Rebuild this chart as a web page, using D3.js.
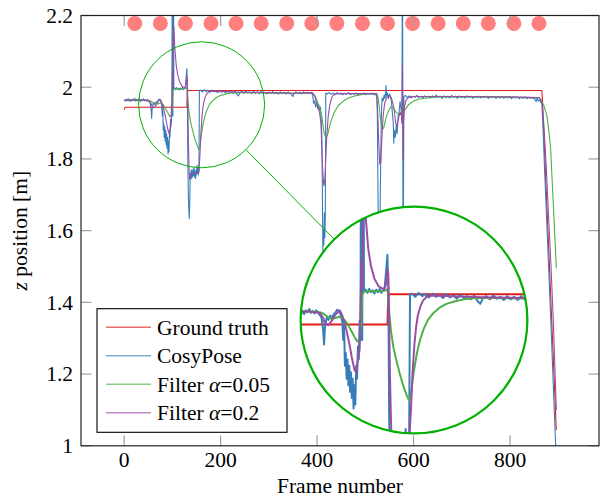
<!DOCTYPE html>
<html>
<head>
<meta charset="utf-8">
<script src="https://cdn.jsdelivr.net/npm/d3@7"></script>
<style>
  html, body { margin: 0; padding: 0; background: #fff; }
</style>
</head>
<body>
<div id="chart"></div>
<script>
// ---- data ----
const xTicks = [0, 200, 400, 600, 800];
const yTicks = [1, 1.2, 1.4, 1.6, 1.8, 2, 2.2];

const markerFrames = [22, 75, 127, 180, 232, 284, 337, 389, 441, 494, 546, 598, 651, 703, 755, 808, 860];
const markerZ = 2.178;

const groundTruth = [[0,1.937],[2,1.944],[130,1.944],[131,1.991],[866,1.991],[867,1.97],[896,1.044]];

const cosyPose = [
  [0,1.962],[2,1.966],[4,1.961],[6,1.967],[8,1.963],[10,1.968],[12,1.960],[14,1.965],[16,1.962],[18,1.967],
  [20,1.963],[22,1.969],[24,1.961],[26,1.966],[28,1.962],[30,1.967],[32,1.964],[34,1.960],[36,1.966],[38,1.963],
  [40,1.968],[42,1.962],[44,1.965],[46,1.961],[48,1.966],[50,1.963],[52,1.959],[54,1.955],[56,1.935],[57,1.913],
  [58,1.94],[60,1.955],[62,1.951],[64,1.958],[66,1.953],[68,1.96],[70,1.962],[72,1.967],[74,1.965],[76,1.96],
  [78,1.948],[79,1.92],[80,1.95],[81,1.88],[82,1.90],[83,1.86],[84,1.89],[85,1.85],[86,1.88],[87,1.84],
  [88,1.87],[89,1.83],[90,1.86],[91,1.814],[92,1.85],[93,1.82],[94,1.88],[95,1.86],[96,1.91],[97,1.89],
  [98,1.95],[99,1.92],[100,2.6],[101,1.92],[102,2.5],[103,1.995],[105,1.998],[107,1.993],[109,1.999],[111,1.994],
  [113,1.997],[115,1.992],[117,1.998],[119,1.994],[121,1.999],[123,1.993],[125,1.997],[127,2.003],[128,2.02],[129,2.036],
  [130,2.052],[131,2.0],[132,1.80],[133,1.70],[134,1.66],[135,1.634],[136,1.68],[137,1.76],[138,1.748],[139,1.77],
  [140,1.745],[141,1.766],[142,1.75],[143,1.772],[144,1.754],[145,1.776],[146,1.75],[147,1.765],[148,1.745],[149,1.77],
  [150,1.755],[151,1.782],[152,1.76],[153,1.775],[154,1.755],[155,1.77],[156,1.99],
  [158,1.992],[162,1.987],[166,1.993],[170,1.988],[174,1.991],[178,1.986],[182,1.992],[186,1.987],[190,1.990],[194,1.985],
  [198,1.991],[202,1.986],[206,1.989],[210,1.984],[214,1.990],[218,1.985],[222,1.988],[226,1.983],[230,1.989],[234,1.980],
  [237,1.976],[240,1.985],[244,1.988],[248,1.983],[252,1.989],[256,1.984],[260,1.987],[264,1.982],[268,1.988],[272,1.983],
  [276,1.987],[280,1.982],[284,1.988],[288,1.983],[292,1.986],[296,1.981],[300,1.987],[304,1.983],[308,1.988],[312,1.982],
  [316,1.986],[320,1.981],[324,1.987],[328,1.983],[332,1.986],[336,1.981],[340,1.987],[344,1.982],[348,1.978],[350,1.974],
  [352,1.982],[356,1.987],[360,1.982],[364,1.986],[368,1.981],[372,1.987],[376,1.983],[380,1.986],[384,1.982],[388,1.986],
  [391,1.975],[393,1.955],[395,1.962],[397,1.945],[399,1.958],[401,1.94],[403,1.952],[405,1.935],[407,1.945],[409,1.90],
  [410,1.85],[411,1.70],[412,1.54],[413,1.60],[414,1.56],[415,1.65],[416,1.58],[417,1.64],[418,1.984],
  [421,1.981],[425,1.985],[429,1.980],[433,1.984],[437,1.979],[441,1.985],[445,1.981],[449,1.984],[453,1.979],[457,1.983],
  [461,1.980],[465,1.985],[469,1.979],[473,1.983],[477,1.980],[481,1.984],[485,1.978],[489,1.983],[493,1.980],[497,1.984],
  [501,1.979],[505,1.983],[509,1.980],[513,1.984],[517,1.979],[521,1.982],
  [524,1.97],[525,1.92],[526,1.75],[527,1.60],[528,1.52],[529,1.58],[530,1.55],[531,1.70],[532,1.80],[533,1.90],
  [534,1.95],[535,1.97],[537,1.962],[539,1.978],[541,1.968],[543,2.005],[544,1.975],[546,1.984],[548,1.968],[550,1.981],
  [552,1.974],[554,1.962],[556,1.93],[558,1.90],[559,1.844],[560,1.88],[562,1.86],[564,1.89],[566,1.87],[568,1.92],
  [570,1.93],[572,1.96],[574,1.94],[576,1.90],[577,2.6],[578,1.62],[579,1.66],[580,1.974],
  [583,1.977],[587,1.971],[591,1.976],[595,1.970],[599,1.975],[603,1.972],[607,1.977],[611,1.971],[615,1.975],[619,1.969],
  [623,1.976],[627,1.972],[631,1.975],[635,1.970],[639,1.976],[643,1.971],[647,1.978],[651,1.972],[655,1.975],[659,1.969],
  [663,1.976],[667,1.971],[671,1.975],[675,1.970],[679,1.977],[683,1.972],[687,1.975],[691,1.969],[695,1.976],[699,1.971],
  [703,1.974],[707,1.970],[711,1.976],[715,1.972],[719,1.975],[723,1.969],[727,1.974],[731,1.971],[735,1.975],[739,1.970],
  [743,1.974],[747,1.971],[751,1.975],[755,1.969],[759,1.974],[763,1.971],[767,1.974],[771,1.969],[775,1.973],[779,1.970],
  [783,1.974],[787,1.969],[791,1.973],[795,1.970],[799,1.974],[803,1.968],[807,1.973],[811,1.970],[815,1.973],[819,1.968],
  [823,1.972],[827,1.969],[831,1.973],[835,1.968],[839,1.972],[843,1.969],[847,1.971],[851,1.967],[854,1.960],[856,1.969],
  [859,1.961],[862,1.965],[864,1.958],[866,1.955],[868,1.90],[872,1.76],[876,1.63],[880,1.50],[884,1.37],[888,1.23],
  [892,1.09],[895,0.99]
];

const filter005 = [
  [0,1.963],[20,1.964],[40,1.964],[52,1.963],[56,1.961],[60,1.957],[65,1.953],[70,1.954],[75,1.956],[80,1.952],
  [84,1.945],[88,1.935],[92,1.925],[95,1.918],[98,1.921],[100,1.95],[101,1.99],[103,1.995],[110,1.996],[120,1.995],
  [128,1.997],[130,1.999],[132,1.965],[134,1.935],[137,1.908],[140,1.89],[144,1.869],[148,1.85],[152,1.835],[155,1.826],
  [157,1.835],[160,1.868],[164,1.90],[168,1.922],[172,1.938],[177,1.952],[183,1.962],[190,1.97],[198,1.976],[208,1.98],
  [218,1.983],[232,1.985],[250,1.985],[300,1.984],[350,1.983],[390,1.984],[395,1.978],[399,1.966],[405,1.944],[410,1.918],
  [414,1.875],[418,1.859],[422,1.868],[428,1.902],[435,1.928],[444,1.949],[455,1.962],[465,1.970],[476,1.975],[486,1.978],
  [500,1.981],[513,1.982],[524,1.982],[526,1.974],[529,1.942],[532,1.907],[535,1.882],[538,1.886],[543,1.916],[548,1.934],
  [553,1.945],[557,1.944],[560,1.938],[564,1.930],[568,1.926],[572,1.927],[576,1.929],[577,1.962],[578,1.932],[582,1.936],
  [590,1.952],[600,1.961],[612,1.967],[628,1.970],[650,1.973],[700,1.973],[800,1.972],[860,1.97],[864,1.965],[870,1.95],
  [877,1.918],[884,1.834],[889,1.695],[894,1.555],[896,1.495]
];

const filter02 = [
  [0,1.963],[20,1.964],[40,1.964],[52,1.962],[56,1.954],[58,1.946],[62,1.943],[66,1.950],[70,1.959],[75,1.966],
  [78,1.958],[82,1.940],[86,1.915],[89,1.893],[92,1.874],[94,1.870],[96,1.89],[98,1.905],[100,2.04],[101,2.0],
  [102,2.12],[103,2.17],[105,2.11],[108,2.06],[111,2.035],[115,2.015],[120,2.003],[126,1.998],[128,2.004],[130,2.03],
  [131,2.022],[132,1.95],[133,1.86],[134,1.80],[135,1.75],[136,1.742],[138,1.752],[142,1.760],[146,1.762],[150,1.760],
  [155,1.763],[157,1.81],[159,1.87],[161,1.912],[163,1.94],[165,1.958],[168,1.972],[171,1.981],[175,1.987],[180,1.989],
  [200,1.988],[250,1.986],[300,1.985],[350,1.983],[390,1.985],[395,1.975],[400,1.952],[405,1.93],[408,1.90],[410,1.82],
  [412,1.76],[414,1.725],[416,1.74],[418,1.80],[420,1.86],[423,1.918],[426,1.948],[429,1.965],[432,1.975],[436,1.980],
  [442,1.982],[522,1.982],[524,1.975],[526,1.92],[528,1.84],[530,1.785],[532,1.79],[534,1.85],[537,1.92],[540,1.955],
  [544,1.97],[549,1.977],[554,1.971],[557,1.955],[560,1.935],[563,1.90],[565,1.89],[568,1.908],[572,1.93],[575,1.92],
  [576,1.90],[577,2.06],[578,1.80],[579,1.90],[581,1.945],[584,1.962],[588,1.970],[595,1.974],[700,1.974],[800,1.973],
  [860,1.971],[864,1.966],[867,1.95],[870,1.90],[875,1.78],[880,1.64],[885,1.50],[890,1.34],[896,1.10]
];

const series = [
  { name: "Ground truth", data: groundTruth, color: "#e41a1c" },
  { name: "CosyPose", data: cosyPose, color: "#377eb8" },
  { name: "Filter α=0.05", data: filter005, color: "#4daf4a" },
  { name: "Filter α=0.2", data: filter02, color: "#984ea3" }
];

// ---- layout ----
const w = 603, h = 498;
const plotLeft = 81, plotRight = 599, plotTop = 15.5, plotBottom = 445.8;
const tickLen = 10.5;
const spyGreen = "#00b000";
const fontSize = "21.5px";

const xScale = d3.scaleLinear().domain([-89.5, 984.5]).range([plotLeft, plotRight]);
const yScale = d3.scaleLinear().domain([1, 2.2]).range([plotBottom, plotTop]);

const svg = d3.select("#chart").append("svg")
  .attr("width", w)
  .attr("height", h);

const defs = svg.append("defs");
defs.append("clipPath").attr("id", "plotClip")
  .append("rect")
  .attr("x", plotLeft).attr("y", plotTop)
  .attr("width", plotRight - plotLeft).attr("height", plotBottom - plotTop);

const line = d3.line()
  .x(d => xScale(d[0]))
  .y(d => yScale(d[1]));

function drawCurves(g) {
  series.forEach(s => {
    g.append("path")
      .datum(s.data)
      .attr("fill", "none")
      .attr("stroke", s.color)
      .attr("stroke-width", 1.1)
      .attr("stroke-linejoin", "round")
      .attr("d", line);
  });
}

// markers on top row
svg.append("g")
  .attr("clip-path", "url(#plotClip)")
  .selectAll("circle")
  .data(markerFrames)
  .enter()
  .append("circle")
  .attr("cx", d => xScale(d))
  .attr("cy", yScale(markerZ))
  .attr("r", 7.5)
  .attr("fill", "#ff7f7f");

// main curves
drawCurves(svg.append("g").attr("clip-path", "url(#plotClip)"));

// ---- spy (magnified circle) ----
const spyFrame = 160.6, spyZ = 1.951;
const mag = 1.8, smallR = 63;
const bigCx = 414, bigCy = 320, bigR = smallR * mag;
const smallCx = xScale(spyFrame), smallCy = yScale(spyZ);

// connector along centre-to-centre direction
const dx = bigCx - smallCx, dy = bigCy - smallCy;
const dist = Math.sqrt(dx * dx + dy * dy);
svg.append("line")
  .attr("x1", smallCx + dx / dist * smallR)
  .attr("y1", smallCy + dy / dist * smallR)
  .attr("x2", bigCx - dx / dist * bigR)
  .attr("y2", bigCy - dy / dist * bigR)
  .attr("stroke", spyGreen)
  .attr("stroke-width", 1);

svg.append("circle")
  .attr("cx", smallCx).attr("cy", smallCy).attr("r", smallR)
  .attr("fill", "none")
  .attr("stroke", spyGreen)
  .attr("stroke-width", 1);

defs.append("clipPath").attr("id", "spyClip")
  .append("circle")
  .attr("cx", bigCx).attr("cy", bigCy).attr("r", bigR);

const spy = svg.append("g").attr("clip-path", "url(#spyClip)");
spy.append("circle")
  .attr("cx", bigCx).attr("cy", bigCy).attr("r", bigR)
  .attr("fill", "#fff");
drawCurves(spy.append("g")
  .attr("transform", `translate(${bigCx},${bigCy}) scale(${mag}) translate(${-smallCx},${-smallCy})`)
  .append("g")
  .attr("clip-path", "url(#plotClip)"));

svg.append("circle")
  .attr("cx", bigCx).attr("cy", bigCy).attr("r", bigR)
  .attr("fill", "none")
  .attr("stroke", spyGreen)
  .attr("stroke-width", 2.2);

// ---- ticks (inside, on all four sides) ----
const tickG = svg.append("g").attr("stroke", "#a0a0a0").attr("stroke-width", 1.2);
xTicks.forEach(t => {
  const x = xScale(t);
  tickG.append("line").attr("x1", x).attr("x2", x).attr("y1", plotBottom).attr("y2", plotBottom - tickLen);
  tickG.append("line").attr("x1", x).attr("x2", x).attr("y1", plotTop).attr("y2", plotTop + tickLen);
});
yTicks.forEach(t => {
  const y = yScale(t);
  tickG.append("line").attr("x1", plotLeft).attr("x2", plotLeft + tickLen).attr("y1", y).attr("y2", y);
  tickG.append("line").attr("x1", plotRight).attr("x2", plotRight - tickLen).attr("y1", y).attr("y2", y);
});

// axis box
svg.append("rect")
  .attr("x", plotLeft).attr("y", plotTop)
  .attr("width", plotRight - plotLeft).attr("height", plotBottom - plotTop)
  .attr("fill", "none")
  .attr("stroke", "#222")
  .attr("stroke-width", 1.2);

// tick labels
svg.append("g")
  .selectAll("text")
  .data(xTicks)
  .enter()
  .append("text")
  .attr("x", d => xScale(d))
  .attr("y", 467)
  .attr("text-anchor", "middle")
  .text(d => d);

svg.append("g")
  .selectAll("text")
  .data(yTicks)
  .enter()
  .append("text")
  .attr("x", 73)
  .attr("y", d => yScale(d))
  .attr("dy", "0.34em")
  .attr("text-anchor", "end")
  .text(d => d3.format("~g")(d));

// axis titles
svg.append("text")
  .attr("x", (plotLeft + plotRight) / 2)
  .attr("y", 493)
  .attr("text-anchor", "middle")
  .text("Frame number");

const yTitle = svg.append("text")
  .attr("transform", `translate(27,${(plotTop + plotBottom) / 2}) rotate(-90)`)
  .attr("text-anchor", "middle");
yTitle.append("tspan").attr("font-style", "italic").text("z");
yTitle.append("tspan").text(" position [m]");

// ---- legend ----
const legend = svg.append("g");
legend.append("rect")
  .attr("x", 97).attr("y", 308.7)
  .attr("width", 190).attr("height", 123.6)
  .attr("fill", "#fff")
  .attr("stroke", "#000")
  .attr("stroke-width", 1.1);

const rows = legend.selectAll("g.row")
  .data(series)
  .enter()
  .append("g")
  .attr("class", "row")
  .attr("transform", (d, i) => `translate(0, ${327.3 + i * 28.5})`);

rows.append("line")
  .attr("x1", 106).attr("x2", 151)
  .attr("stroke", d => d.color)
  .attr("stroke-opacity", 0.65)
  .attr("stroke-width", 1.4);

rows.append("text")
  .attr("x", 157)
  .attr("dy", "0.34em")
  .each(function(d) {
    const t = d3.select(this);
    const parts = d.name.split("α");
    t.append("tspan").text(parts[0]);
    if (parts.length > 1) {
      t.append("tspan").attr("font-style", "italic").text("α");
      t.append("tspan").text(parts[1]);
    }
  });

// all texts: serif, same size
svg.selectAll("text")
  .attr("font-family", "Liberation Serif")
  .attr("font-size", fontSize)
  .attr("fill", "#000");
</script>
</body>
</html>
